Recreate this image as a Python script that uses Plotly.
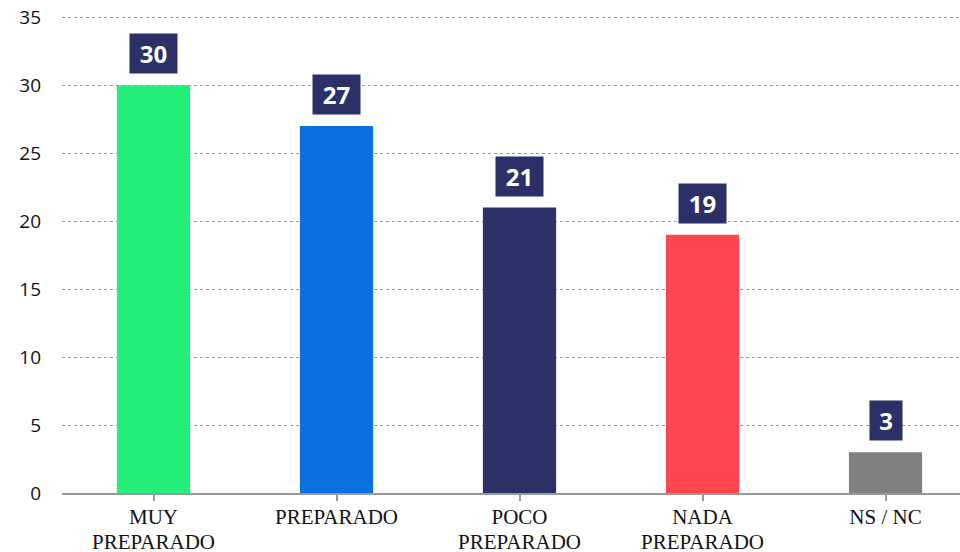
import plotly.graph_objects as go

categories = [["MUY", "PREPARADO"], ["PREPARADO"], ["POCO", "PREPARADO"], ["NADA", "PREPARADO"], ["NS / NC"]]
values = [30, 27, 21, 19, 3]
bar_colors = ["#23EE7A", "#0A70DF", "#2B3066", "#FF4550", "#808080"]
y_ticks = [0, 5, 10, 15, 20, 25, 30, 35]

x_idx = list(range(len(categories)))
tick_text = ["<br>".join("<span style='font-size:21px'>%s</span>" % ln for ln in c) for c in categories]

fig = go.Figure()
fig.add_trace(go.Bar(
    x=x_idx, y=values, width=0.4,
    marker=dict(color=bar_colors, line=dict(width=0)),
    hoverinfo="skip",
))

for i, v in zip(x_idx, values):
    txt = str(v)
    fig.add_annotation(
        x=i, y=v, xref="x", yref="y",
        text="<b>%s</b>" % txt,
        showarrow=False, yanchor="bottom", yshift=11,
        width=11 + 15 * len(txt), height=33,
        bgcolor="#2B3066", borderpad=3,
        font=dict(family="Open Sans", size=24, color="white"),
        align="center", valign="middle",
    )

fig.update_layout(
    width=960, height=552,
    margin=dict(l=62, r=0, t=16, b=59),
    plot_bgcolor="white", paper_bgcolor="white",
    showlegend=False,
    bargap=0.6,
)
fig.update_xaxes(
    range=[-0.5, 4.407], automargin=False,
    tickmode="array", tickvals=x_idx, ticktext=tick_text,
    tickson="boundaries",
    ticks="outside", ticklen=6, tickcolor="#999999", tickwidth=2,
    showline=True, linecolor="#999999", linewidth=2,
    showgrid=False, zeroline=False,
    tickfont=dict(family="Liberation Serif", size=19, color="#111111"),
)
fig.update_yaxes(
    range=[0, 35.1], tickmode="array", tickvals=y_ticks, automargin=False,
    showgrid=True, gridcolor="#999999", griddash="dot", gridwidth=1,
    zeroline=False, showline=False, ticks="",
    ticklabelstandoff=20,
    tickfont=dict(family="Open Sans", size=19, color="#111111"),
)

fig.write_html("out.html", config={"displayModeBar": False},
               post_script="document.body.style.margin='0';")
